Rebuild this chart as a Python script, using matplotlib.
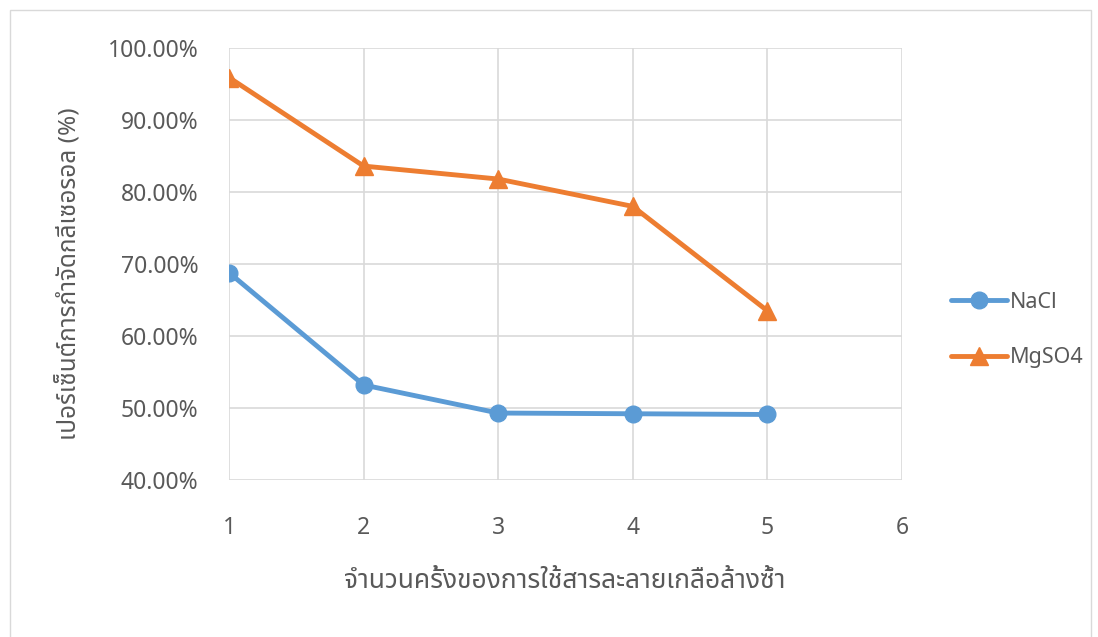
import matplotlib
matplotlib.use("Agg")
import matplotlib.pyplot as plt
from matplotlib import font_manager
from matplotlib.ft2font import FT2Font
from matplotlib.ticker import FuncFormatter, MultipleLocator
from matplotlib.patches import Rectangle

# ---- data ----
x_vals = [1, 2, 3, 4, 5]
nacl = [68.8, 53.2, 49.3, 49.2, 49.1]
mgso4 = [95.9, 83.6, 81.8, 78.0, 63.5]
series_names = ["NaCl", "MgSO4"]
x_label = "จำนวนครั้งของการใช้สารละลายเกลือล้างซ้ำ"
y_label = "เปอร์เซ็นต์การกำจัดกลีเซอรอล (%)"

# ---- find a font with Thai glyphs ----
thai_font = None
found = []
for f in font_manager.fontManager.ttflist:
    try:
        cm = FT2Font(f.fname).get_charmap()
        if ord("ก") in cm:
            found.append(f.name)
    except Exception:
        pass
for pref in ["Noto Sans Thai", "Noto Sans Thai Looped", "Loma", "Garuda", "Norasi", "Sawasdee", "Umpush", "Kinnari"]:
    if pref in found:
        thai_font = pref
        break
if thai_font is None and found:
    thai_font = found[0]
fams = ([thai_font] if thai_font else []) + ["Open Sans", "DejaVu Sans"]
plt.rcParams["font.family"] = fams

text_color = "#595959"
grid_color = "#d9d9d9"

fig = plt.figure(figsize=(10.98, 6.37), dpi=100)
fig.patches.append(Rectangle((10/1098, -0.05), 1081/1098, 1.05 - 10/637, transform=fig.transFigure,
                             fill=False, edgecolor=grid_color, linewidth=1))
ax = fig.add_axes([229/1098, 1 - 480/637, (902-229)/1098, (480-48)/637])

ax.plot(x_vals, nacl, color="#5b9bd5", linewidth=3.5, marker="o", markersize=12,
        label=series_names[0], solid_capstyle="round")
ax.plot(x_vals, mgso4, color="#ed7d31", linewidth=3.5, marker="^", markersize=13,
        label=series_names[1], solid_capstyle="round")

ax.set_xlim(1, 6)
ax.set_ylim(40, 100)
ax.xaxis.set_major_locator(MultipleLocator(1))
ax.yaxis.set_major_locator(MultipleLocator(10))
ax.yaxis.set_major_formatter(FuncFormatter(lambda v, p: f"{v:.2f}%"))
ax.grid(True, color=grid_color, linewidth=1.2)
ax.set_axisbelow(True)
for s in ax.spines.values():
    s.set_visible(False)
ax.tick_params(length=0, labelsize=16.5, labelcolor=text_color)
ax.tick_params(axis="y", pad=22)
ax.tick_params(axis="x", pad=26)
ax.set_xlabel(x_label, fontsize=19, color=text_color, va="center")
ax.xaxis.set_label_coords(565/1098, 1 - 581/637, transform=fig.transFigure)
ax.set_ylabel(y_label, fontsize=17.5, color=text_color, va="center")
ax.yaxis.set_label_coords(70/1098, 1 - 274/637, transform=fig.transFigure)

leg = ax.legend(loc="center left", bbox_to_anchor=(932/1098, 1 - 330/637), bbox_transform=fig.transFigure,
                frameon=False, fontsize=15.5, labelcolor=text_color, handlelength=2.6,
                handletextpad=0.1, labelspacing=1.6)

fig.savefig("out.png", dpi=100)
